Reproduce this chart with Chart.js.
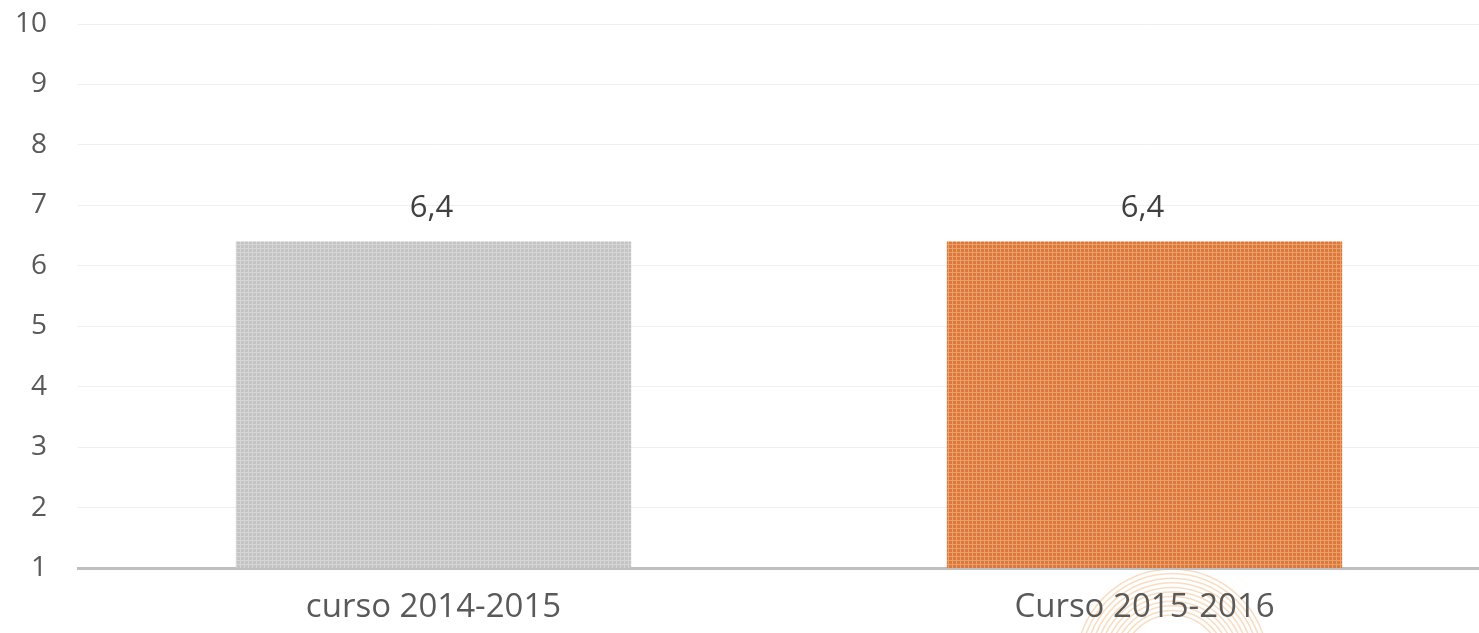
<!DOCTYPE html>
<html>
<head>
<meta charset="utf-8">
<script src="https://cdn.jsdelivr.net/npm/chart.js@4.4.1/dist/chart.umd.min.js"></script>
<style>
    html, body { margin: 0; padding: 0; background: #fff; overflow: hidden; }
    #wrap { position: absolute; left: 0; top: 0; width: 1500px; height: 633px; }
</style>
</head>
<body>
<div id="wrap"><canvas id="barChart"></canvas></div>
<script>
const categories = ["curso 2014-2015", "Curso 2015-2016"];
const values = [6.4, 6.4];
const valueLabels = ["6,4", "6,4"];
const yTicks = [1, 2, 3, 4, 5, 6, 7, 8, 9, 10];

// small checker pattern like the textured fill in the picture
function makePattern(base, light) {
    const c = document.createElement("canvas");
    c.width = 4;
    c.height = 4;
    const g = c.getContext("2d");
    g.fillStyle = base;
    g.fillRect(0, 0, 4, 4);
    g.fillStyle = light;
    g.fillRect(0, 0, 4, 1);
    g.fillRect(0, 0, 1, 4);
    return document.getElementById("barChart").getContext("2d").createPattern(c, "repeat");
}

const barColors = [
    makePattern("#c4c4c4", "#d6d6d6"),
    makePattern("#dc783a", "#eaa06c")
];

// faint ring watermark behind the second label
const watermarkPlugin = {
    id: "watermark",
    beforeDraw(chart) {
        const ctx = chart.ctx;
        ctx.save();
        ctx.strokeStyle = "rgba(240, 180, 120, 0.45)";
        ctx.lineWidth = 1.5;
        for (let r = 50; r <= 96; r += 4.6) {
            ctx.beginPath();
            ctx.arc(1172, 665, r, Math.PI, 2 * Math.PI);
            ctx.stroke();
        }
        ctx.restore();
    }
};

const valueLabelPlugin = {
    id: "valueLabels",
    afterDatasetsDraw(chart) {
        const ctx = chart.ctx;
        const meta = chart.getDatasetMeta(0);
        ctx.save();
        ctx.font = "31px 'Open Sans'";
        ctx.fillStyle = "#404040";
        ctx.textAlign = "center";
        ctx.textBaseline = "middle";
        meta.data.forEach((bar, i) => {
            ctx.fillText(valueLabels[i], bar.x - 2, bar.y - 33);
        });
        ctx.restore();
    }
};

new Chart(document.getElementById("barChart"), {
    type: "bar",
    data: {
        labels: categories,
        datasets: [{
            data: values,
            backgroundColor: barColors,
            borderWidth: 0,
            categoryPercentage: 1,
            barPercentage: 0.556
        }]
    },
    options: {
        responsive: true,
        maintainAspectRatio: false,
        animation: false,
        layout: { padding: { top: 24, bottom: 0, left: 0, right: 0 } },
        plugins: {
            legend: { display: false },
            tooltip: { enabled: false }
        },
        scales: {
            x: {
                grid: { display: false, drawTicks: false },
                border: { display: true, color: "#bfbfbf", width: 3 },
                ticks: {
                    color: "#595959",
                    font: { family: "'Open Sans'", size: 33 },
                    padding: 20
                },
                afterFit(scale) { scale.height = 65; }
            },
            y: {
                min: 1,
                max: 10,
                afterBuildTicks(scale) {
                    scale.ticks = yTicks.map(v => ({ value: v }));
                },
                grid: { color: "#efefef", lineWidth: 1, drawTicks: false },
                border: { display: false },
                ticks: {
                    color: "#595959",
                    font: { family: "'Open Sans'", size: 28 },
                    padding: 31
                },
                afterFit(scale) {
                    scale.width = 78;
                    scale.paddingTop = 0;
                    scale.paddingBottom = 0;
                }
            }
        }
    },
    plugins: [watermarkPlugin, valueLabelPlugin]
});
</script>
</body>
</html>
